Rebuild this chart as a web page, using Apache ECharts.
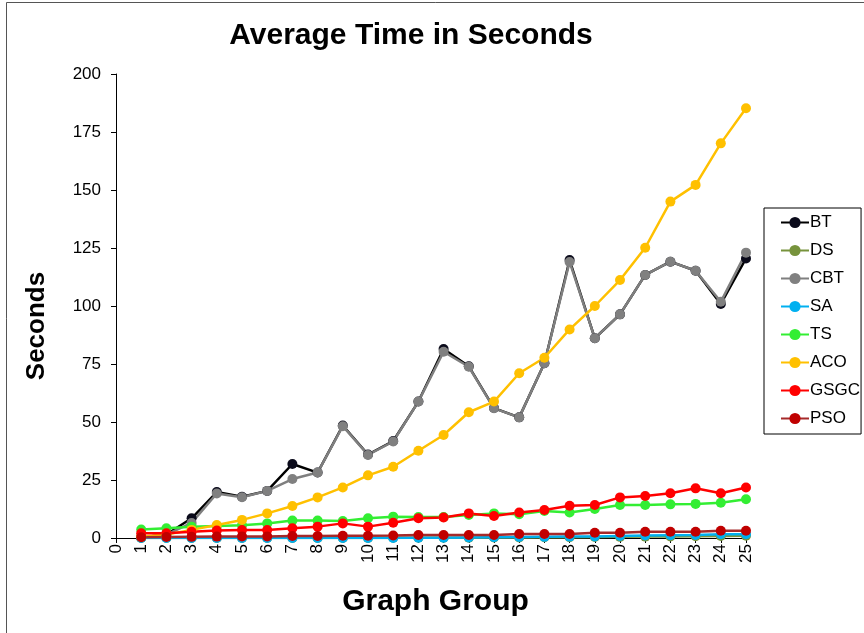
<!DOCTYPE html>
<html>
<head>
<meta charset="utf-8">
<script src="https://cdn.jsdelivr.net/npm/echarts@6/dist/echarts.min.js"></script>
<style>html,body{margin:0;padding:0;background:#fff}#c{width:864px;height:633px}</style>
</head>
<body>
<div id="c"></div>
<script>
const groups = [1,2,3,4,5,6,7,8,9,10,11,12,13,14,15,16,17,18,19,20,21,22,23,24,25];
const xTicks = [0,1,2,3,4,5,6,7,8,9,10,11,12,13,14,15,16,17,18,19,20,21,22,23,24,25];
const yTicks = [0,25,50,75,100,125,150,175,200];
const BT   = [0.2,1.5,8.5,19.8,17.8,20.3,31.9,28.2,48.5,36,41.8,58.8,81.5,74,56,52,75.3,119.8,86.1,96.4,113.4,119.1,115.2,100.9,120.5];
const DS   = [0,0,0,0,0,0,0,0,0,0,0.1,0.1,0.1,0.1,0.2,0.2,0.3,0.3,0.4,0.5,0.6,0.7,0.8,0.9,1.0];
const CBT  = [0.2,1.5,6.5,19.2,17.6,20.3,25.4,28.2,48.2,35.8,41.6,58.8,80.3,73.8,55.9,52,75.3,119,86.1,96.4,113.4,119.1,115.2,101.8,123];
const SA   = [0,0,0,0,0,0,0,0,0,0,0,0.1,0.1,0.2,0.3,0.4,0.5,0.6,0.7,0.9,1.1,1.2,1.3,1.6,1.6];
const TS   = [3.7,4.2,4.9,5.2,5.5,6.3,7.5,7.5,7.3,8.5,9.2,9,9,9.9,10.6,10.2,11.6,11,12.5,14.2,14.2,14.5,14.7,15.2,16.7];
const ACO  = [0.5,1.5,3.5,5.6,7.8,10.6,13.8,17.5,21.8,27,30.7,37.6,44.4,54.2,58.8,71,77.7,89.9,100,111.2,125.1,145,152.2,170.1,185.2];
const GSGC = [2,2,2.7,3.2,3.4,3.4,4.2,4.9,6.3,4.9,6.6,8.5,8.8,10.6,9.5,11,12.1,13.9,14.2,17.5,18.1,19.3,21.4,19.3,21.8];
const PSO  = [0.3,0.4,0.5,0.6,0.7,0.7,0.9,0.9,1,1,1.1,1.3,1.3,1.3,1.3,1.7,1.7,1.7,2.3,2.3,2.7,2.7,2.7,3.1,3.1];

const names = ['BT','DS','CBT','SA','TS','ACO','GSGC','PSO'];
const values = [BT,DS,CBT,SA,TS,ACO,GSGC,PSO];
const lineColors = ['#000000','#77933C','#7F7F7F','#00B0F0','#33EE33','#FFC000','#FF0000','#A52A2A'];
const dotColors  = ['#0A0A1A','#77933C','#808080','#00B0F0','#33EE33','#FFC000','#FF0000','#C00000'];

const font = 'Liberation Sans, Arial, sans-serif';
const chart = echarts.init(document.getElementById('c'));
chart.setOption({
  animation: false,
  backgroundColor: '#ffffff',
  title: {
    text: 'Average Time in Seconds',
    left: 406, top: 16, textAlign: 'center',
    textStyle: {fontFamily: font, fontSize: 30, fontWeight: 'bold', color: '#000'}
  },
  graphic: [{
    type: 'polyline', silent: true,
    shape: {points: [[6.5, 640], [6.5, 2.5], [870, 2.5]]},
    style: {stroke: '#555', lineWidth: 1, fill: null}
  }],
  legend: {
    orient: 'vertical', left: 764, top: 208,
    padding: [6, 1, 7, 16],
    itemWidth: 28, itemHeight: 14, itemGap: 11,
    borderColor: '#000', borderWidth: 1,
    data: names,
    textStyle: {fontFamily: font, fontSize: 17, color: '#000', padding: [0,0,0,-4]}
  },
  grid: {left: 116, right: 118, top: 74, bottom: 95, containLabel: false},
  xAxis: {
    type: 'value', min: 0, max: 25, interval: 1,
    name: 'Graph Group', nameLocation: 'middle', nameGap: 49,
    nameTextStyle: {fontFamily: font, fontSize: 30, fontWeight: 'bold', color: '#000', padding: [0, 0, 0, 9]},
    axisLine: {lineStyle: {color: '#000', width: 1}},
    axisTick: {show: true, length: 5, lineStyle: {color: '#000'}},
    axisLabel: {rotate: 90, margin: 6, fontFamily: font, fontSize: 17, color: '#000',
      formatter: v => xTicks.indexOf(v) >= 0 ? String(v) : ''},
    splitLine: {show: false}
  },
  yAxis: {
    type: 'value', min: 0, max: 200, interval: 25,
    name: 'Seconds', nameLocation: 'middle', nameGap: 66,
    nameTextStyle: {fontFamily: font, fontSize: 26, fontWeight: 'bold', color: '#000', padding: [0, 40, 0, 0]},
    axisLine: {show: true, lineStyle: {color: '#000', width: 1}},
    axisTick: {show: true, length: 5, lineStyle: {color: '#000'}},
    axisLabel: {margin: 15, fontFamily: font, fontSize: 17, color: '#000',
      formatter: v => yTicks.indexOf(v) >= 0 ? String(v) : ''},
    splitLine: {show: false}
  },
  series: names.map((n, i) => ({
    name: n, type: 'line',
    data: groups.map((g, j) => [g, values[i][j]]),
    symbol: 'circle', symbolSize: 10,
    lineStyle: {color: lineColors[i], width: 2.5},
    itemStyle: {color: dotColors[i], borderWidth: 0}
  }))
});
</script>
</body>
</html>
